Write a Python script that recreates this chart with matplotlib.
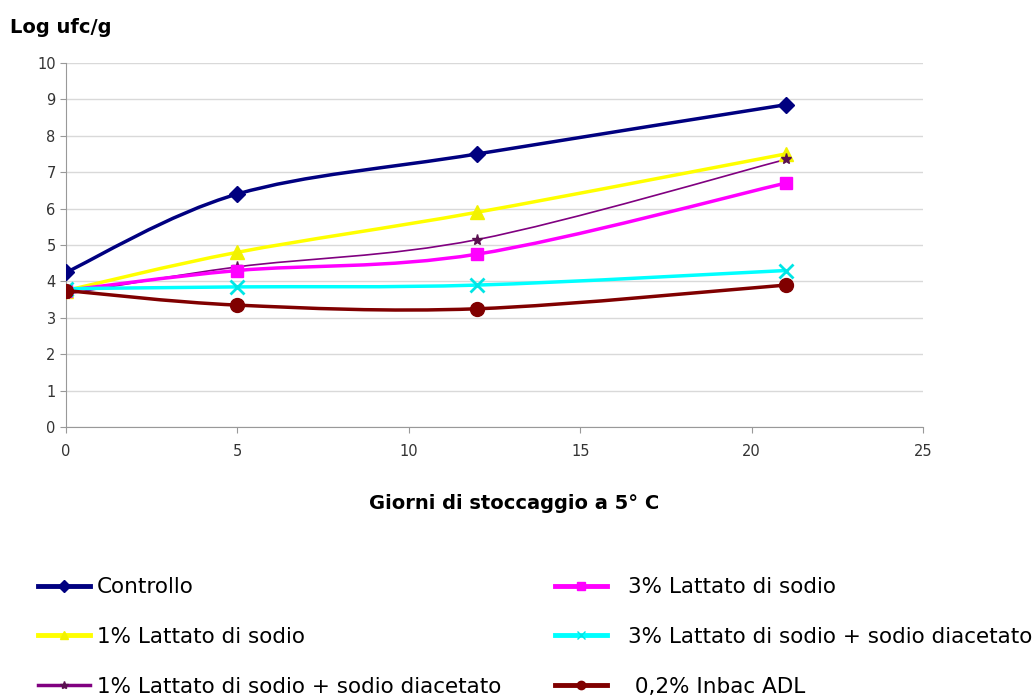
import matplotlib.pyplot as plt
import numpy as np
from matplotlib.path import Path
from matplotlib.patches import PathPatch
from matplotlib.lines import Line2D

# giorni di stoccaggio
giorni = [0, 5, 12, 21]

controllo = [4.25, 6.4, 7.5, 8.85]
latt1 = [3.75, 4.8, 5.9, 7.5]
latt1_diac = [3.65, 4.4, 5.15, 7.35]
latt3 = [3.75, 4.3, 4.75, 6.7]
latt3_diac = [3.8, 3.85, 3.9, 4.3]
inbac = [3.75, 3.35, 3.25, 3.9]

labels = ['Controllo', '1% Lattato di sodio', '1% Lattato di sodio + sodio diacetato',
          '3% Lattato di sodio', '3% Lattato di sodio + sodio diacetato', ' 0,2% Inbac ADL']
series = [controllo, latt1, latt1_diac, latt3, latt3_diac, inbac]
colors = ['#000080', '#FFFF00', '#800080', '#FF00FF', '#00FFFF', '#800000']
mcolors = ['#000080', '#F2F200', '#5A1050', '#FF00FF', '#00E5E5', '#800000']
markers = ['D', '^', '*', 's', 'x', 'o']
msizes = [8, 10, 8, 9, 10, 10]
lwidths = [2.5, 2.5, 1.2, 2.5, 2.5, 2.5]


def smooth_path(x, y):
    # curva tipo Excel (Catmull-Rom -> Bezier)
    pts = np.column_stack([x, y]).astype(float)
    n = len(pts)
    verts = [pts[0]]
    codes = [Path.MOVETO]
    for i in range(n - 1):
        p0 = pts[i - 1] if i > 0 else pts[i]
        p1 = pts[i]
        p2 = pts[i + 1]
        p3 = pts[i + 2] if i + 2 < n else pts[i + 1]
        c1 = p1 + (p2 - p0) / 6.0
        c2 = p2 - (p3 - p1) / 6.0
        verts += [c1, c2, p2]
        codes += [Path.CURVE4] * 3
    return Path(verts, codes)


fig = plt.figure(figsize=(10.33, 6.98), dpi=100)
ax = fig.add_axes([0.064, 0.388, 0.8295, 0.522])

for vals, c, mc, m, ms, lw in zip(series, colors, mcolors, markers, msizes, lwidths):
    ax.add_patch(PathPatch(smooth_path(giorni, vals), facecolor='none', edgecolor=c,
                           lw=lw, zorder=3))
    ax.plot(giorni, vals, linestyle='none', marker=m, markersize=ms, color=mc,
            markeredgecolor=mc, markeredgewidth=2 if m == 'x' else 1, zorder=4)

ax.set_xlim(0, 25)
ax.set_ylim(0, 10)
ax.set_xticks(range(0, 26, 5))
ax.set_yticks(range(0, 11))
ax.grid(axis='y', color='#D9D9D9', lw=1)
ax.set_axisbelow(True)
for s in ['top', 'right']:
    ax.spines[s].set_visible(False)
for s in ['left', 'bottom']:
    ax.spines[s].set_color('#999999')
ax.tick_params(colors='#999999', labelcolor='#333333', labelsize=10.5, length=4)
ax.tick_params(axis='x', pad=8)

fig.text(0.01, 0.961, 'Log ufc/g', fontsize=14, fontweight='bold', va='center')
fig.text(0.4976, 0.278, 'Giorni di stoccaggio a 5° C', fontsize=14, fontweight='bold',
         ha='center', va='center')

handles = []
for c, mc, m, lw in zip(colors, mcolors, markers, lwidths):
    handles.append(Line2D([], [], color=c, lw=max(lw, 1.5) + 1, marker=m,
                          markersize=6, markerfacecolor=mc, markeredgecolor=mc))

leg_kw = dict(loc='upper left', frameon=False, fontsize=15.5, handlelength=2.4,
              labelspacing=1.38, borderpad=0, borderaxespad=0)
leg1 = fig.legend(handles[:3], labels[:3], bbox_to_anchor=(38 / 1033, 0.173),
                  handletextpad=0.33, **leg_kw)
fig.legend(handles[3:], labels[3:], bbox_to_anchor=(555 / 1033, 0.173),
           handletextpad=1.0, **leg_kw)

fig.savefig('out.png', dpi=100)
